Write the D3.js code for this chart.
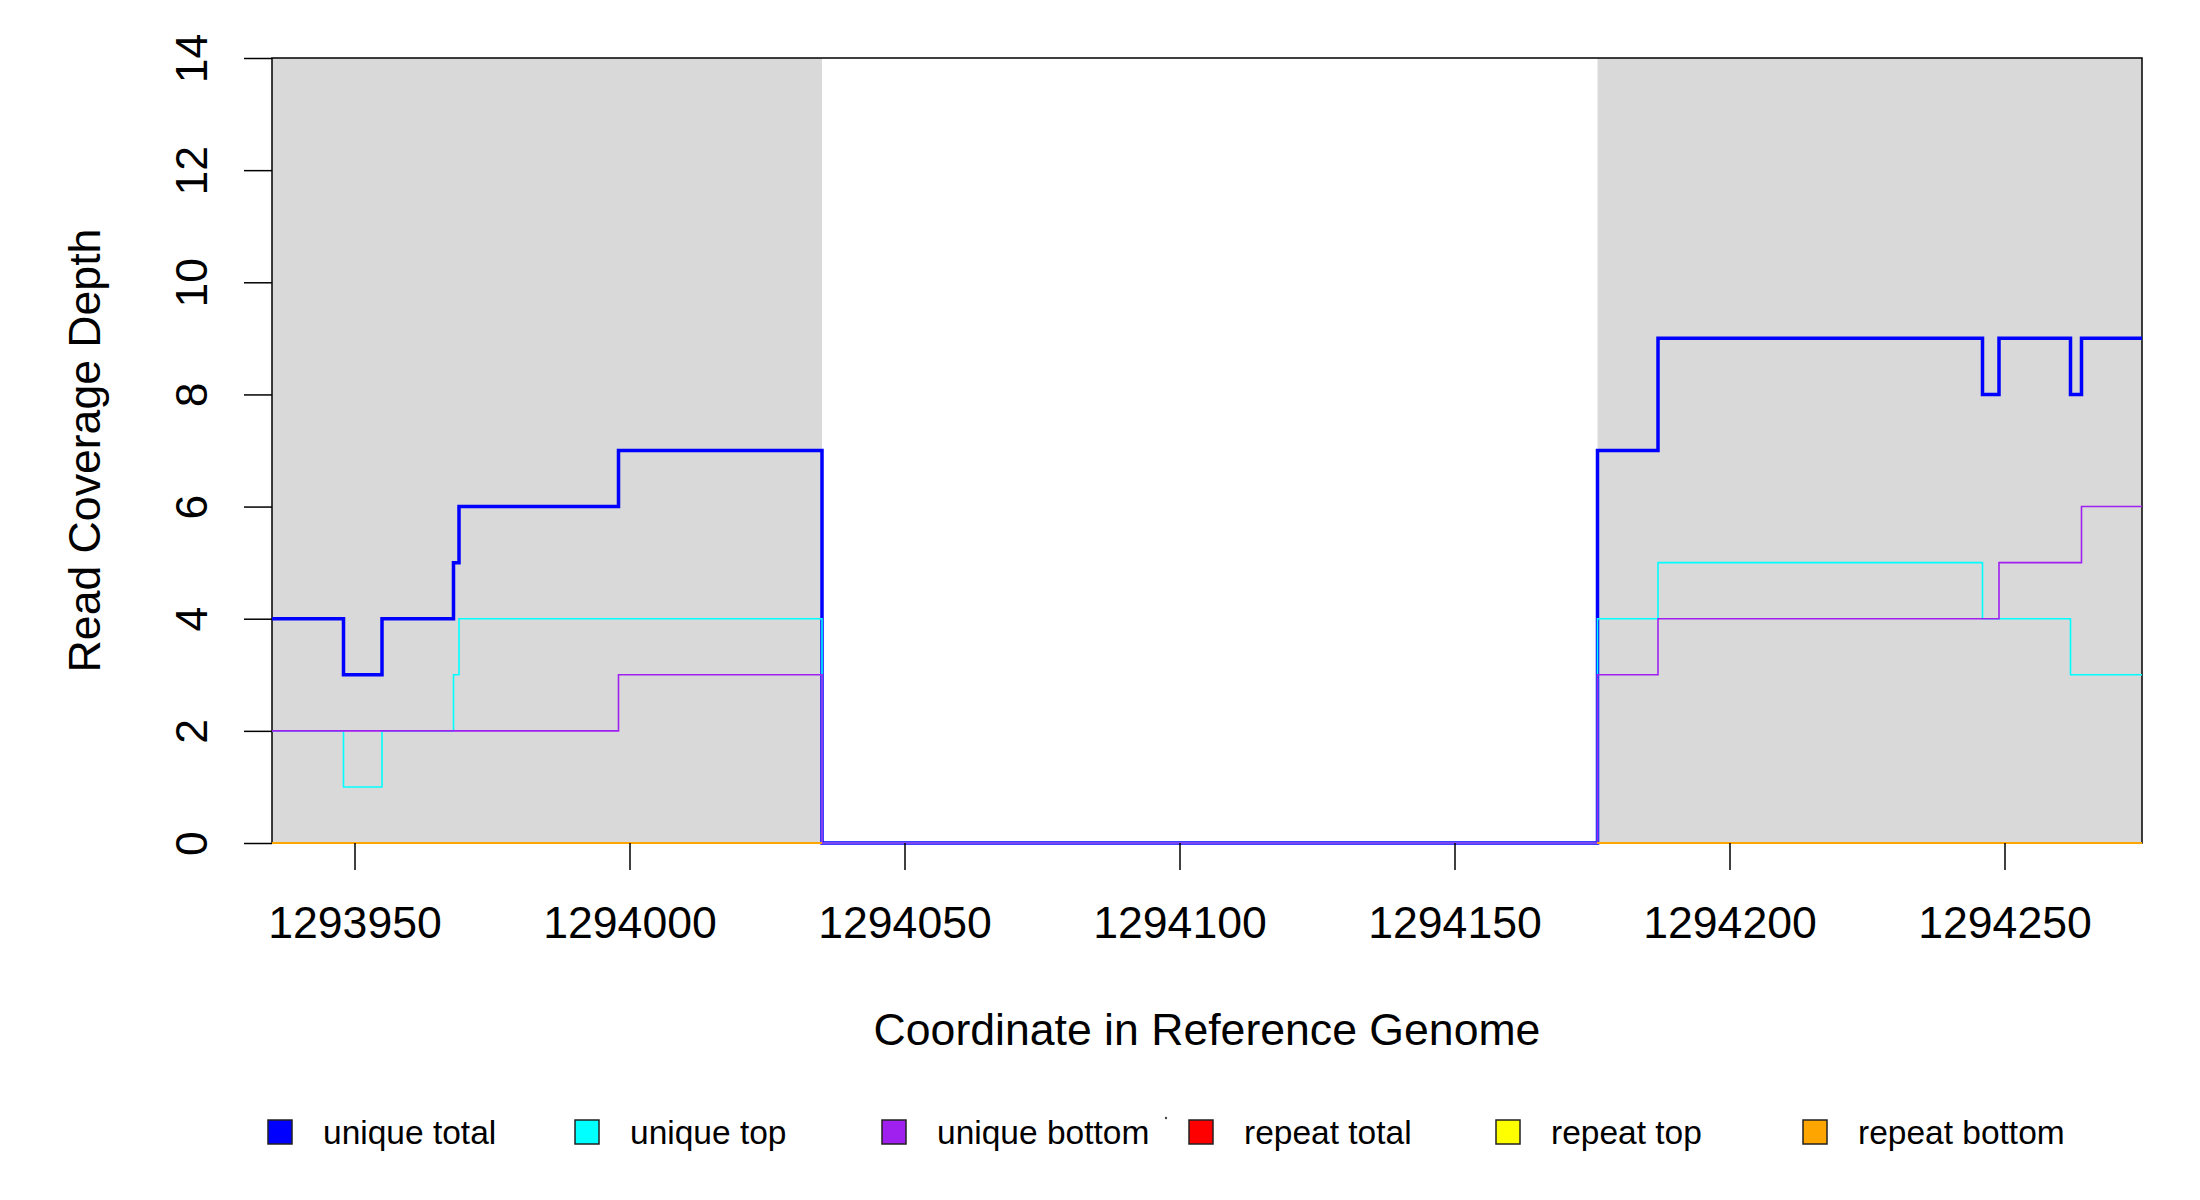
<!DOCTYPE html>
<html>
<head>
<meta charset="utf-8">
<script src="https://cdn.jsdelivr.net/npm/d3@7"></script>
<style>
  body { margin: 0; background: #fff; }
  svg text { font-family: "Liberation Sans", Arial, sans-serif; fill: #000; }
</style>
</head>
<body>
<div id="chart"></div>
<script>
// coverage step data (value holds from each position until the next one)
const uniqueTotalPos = [1293935, 1293948, 1293955, 1293968, 1293969, 1293998, 1294035, 1294176, 1294187, 1294246, 1294249, 1294262, 1294264, 1294275];
const uniqueTotalVal = [4, 3, 4, 5, 6, 7, 0, 7, 9, 8, 9, 8, 9, 9];

const uniqueTopPos = [1293935, 1293948, 1293955, 1293968, 1293969, 1294035, 1294176, 1294187, 1294246, 1294262, 1294275];
const uniqueTopVal = [2, 1, 2, 3, 4, 0, 4, 5, 4, 3, 3];

const uniqueBottomPos = [1293935, 1293998, 1294035, 1294176, 1294187, 1294249, 1294264, 1294275];
const uniqueBottomVal = [2, 3, 0, 3, 4, 5, 6, 6];

// repeat coverage only exists inside the shaded regions, all zero here
const shadedStart = [1293935, 1294176];
const shadedEnd = [1294035, 1294275];
const repeatTotalVal = [0, 0];
const repeatTopVal = [0, 0];
const repeatBottomVal = [0, 0];

const xTicks = [1293950, 1294000, 1294050, 1294100, 1294150, 1294200, 1294250];
const yTicks = [0, 2, 4, 6, 8, 10, 12, 14];

const seriesNames = ['unique total', 'unique top', 'unique bottom', 'repeat total', 'repeat top', 'repeat bottom'];
const seriesColors = ['#0000ff', '#00ffff', '#a020f0', '#ff0000', '#ffff00', '#ffa500'];

const W = 2200, H = 1200;
const plot = { left: 272, right: 2142, top: 58, bottom: 843 };

const svg = d3.select('#chart').append('svg')
  .attr('width', W).attr('height', H);

svg.append('rect').attr('width', W).attr('height', H).attr('fill', '#fff');

const x = d3.scaleLinear().domain([1293935, 1294275]).range([plot.left, plot.right]);
const y = d3.scaleLinear().domain([0, 14]).range([plot.bottom, plot.top]);

// shaded regions
svg.append('g').selectAll('rect')
  .data(shadedStart.map((s, i) => ({ s, e: shadedEnd[i] })))
  .join('rect')
  .attr('x', d => x(d.s))
  .attr('y', plot.top)
  .attr('width', d => x(d.e) - x(d.s))
  .attr('height', plot.bottom - plot.top)
  .attr('fill', '#d9d9d9');

// plot box
svg.append('rect')
  .attr('x', plot.left).attr('y', plot.top)
  .attr('width', plot.right - plot.left).attr('height', plot.bottom - plot.top)
  .attr('fill', 'none').attr('stroke', '#000').attr('stroke-width', 1.5);

const line = d3.line()
  .x(d => x(d[0]))
  .y(d => y(d[1]))
  .curve(d3.curveStepAfter);

const lines = svg.append('g').attr('fill', 'none');

function drawStep(pos, val, color, width) {
  lines.append('path')
    .datum(pos.map((p, i) => [p, val[i]]))
    .attr('d', line)
    .attr('stroke', color)
    .attr('stroke-width', width);
}

drawStep(uniqueTotalPos, uniqueTotalVal, seriesColors[0], 3.5);
drawStep(uniqueTopPos, uniqueTopVal, seriesColors[1], 1.6);
drawStep(uniqueBottomPos, uniqueBottomVal, seriesColors[2], 1.6);

// repeat series, one piece per shaded region
[repeatTotalVal, repeatTopVal, repeatBottomVal].forEach((vals, k) => {
  shadedStart.forEach((s, i) => {
    drawStep([s, shadedEnd[i]], [vals[i], vals[i]], seriesColors[3 + k], 2.2);
  });
});

// x axis
const xAxis = d3.axisBottom(x).tickValues(xTicks).tickSize(27).tickFormat(d3.format('d'));
const gx = svg.append('g').attr('transform', `translate(0,${plot.bottom})`).call(xAxis);
gx.select('.domain').remove();
gx.selectAll('line').attr('stroke', '#000').attr('stroke-width', 1.5);
gx.selectAll('text')
  .attr('y', 95).attr('dy', null)
  .attr('font-size', 44.6)
  .attr('font-family', '"Liberation Sans", Arial, sans-serif');

// y axis, labels parallel to the axis
const yAxis = d3.axisLeft(y).tickValues(yTicks).tickSize(28);
const gy = svg.append('g').attr('transform', `translate(${plot.left},0)`).call(yAxis);
gy.select('.domain').remove();
gy.selectAll('line').attr('stroke', '#000').attr('stroke-width', 1.5);
gy.selectAll('text')
  .attr('x', null).attr('dy', null)
  .attr('text-anchor', 'middle')
  .attr('transform', 'translate(-65,0) rotate(-90)')
  .attr('font-size', 44.6)
  .attr('font-family', '"Liberation Sans", Arial, sans-serif');

// axis titles
svg.append('text')
  .attr('x', (plot.left + plot.right) / 2).attr('y', 1045)
  .attr('text-anchor', 'middle').attr('font-size', 44.6)
  .text('Coordinate in Reference Genome');

svg.append('text')
  .attr('transform', `translate(100,${(plot.top + plot.bottom) / 2}) rotate(-90)`)
  .attr('text-anchor', 'middle').attr('font-size', 44.6)
  .text('Read Coverage Depth');

// legend
const legend = svg.append('g').attr('transform', 'translate(268,1120)');
const item = legend.selectAll('g')
  .data(seriesNames)
  .join('g')
  .attr('transform', (d, i) => `translate(${i * 307},0)`);

item.append('rect')
  .attr('width', 24).attr('height', 24)
  .attr('fill', (d, i) => seriesColors[i])
  .attr('stroke', '#222').attr('stroke-width', 1.5);

item.append('text')
  .attr('x', 55).attr('y', 24)
  .attr('font-size', 33.5)
  .text(d => d);

// small stray mark between legend entries
svg.append('circle').attr('cx', 1166).attr('cy', 1118).attr('r', 1.2).attr('fill', '#444');
</script>
</body>
</html>
